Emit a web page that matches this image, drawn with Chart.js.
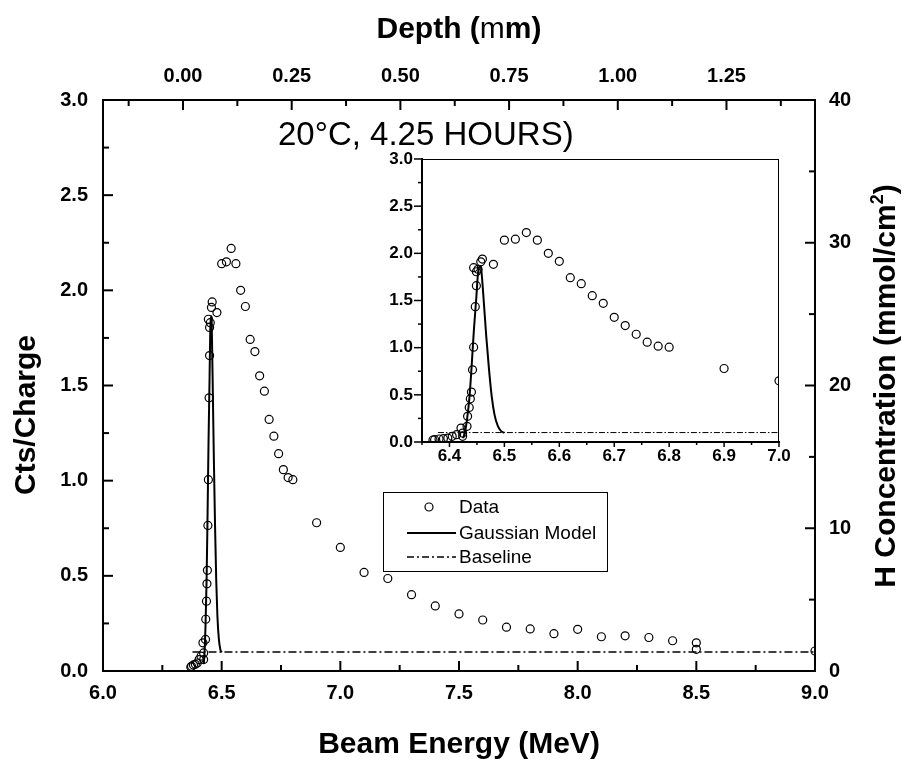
<!DOCTYPE html>
<html><head><meta charset="utf-8">
<script src="https://cdn.jsdelivr.net/npm/chart.js@4.4.1/dist/chart.umd.min.js"></script>
<style>
html,body{margin:0;padding:0;background:#fff;}
#wrap{position:relative;width:907px;height:766px;overflow:hidden;}
#main{position:absolute;left:0;top:0;}
#inset{position:absolute;left:360px;top:145px;}
</style></head><body>
<div id="wrap"><canvas id="main" width="907" height="766"></canvas><canvas id="inset" width="430" height="330"></canvas></div>
<script>
// ---------------- data ----------------
const energy = [6.370,6.373,6.381,6.389,6.397,6.405,6.413,6.421,6.424,6.424,6.432,6.433,6.436,6.438,6.440,6.442,6.444,6.447,6.449,6.449,6.444,6.452,6.457,6.460,6.48,6.50,6.52,6.54,6.56,6.58,6.60,6.62,6.64,6.66,6.68,6.70,6.72,6.74,6.76,6.78,6.80,6.90,7.00,7.10,7.20,7.30,7.40,7.50,7.60,7.70,7.80,7.90,8.00,8.10,8.20,8.30,8.40,8.50,8.50,9.00];
const counts = [0.021,0.025,0.032,0.035,0.042,0.060,0.078,0.148,0.060,0.095,0.166,0.272,0.367,0.458,0.529,0.765,1.005,1.435,1.657,1.805,1.848,1.830,1.910,1.939,1.883,2.14,2.15,2.22,2.14,2.00,1.915,1.742,1.678,1.551,1.47,1.322,1.234,1.142,1.058,1.016,1.005,0.779,0.649,0.518,0.486,0.401,0.342,0.300,0.268,0.230,0.221,0.196,0.219,0.180,0.185,0.176,0.159,0.148,0.114,0.105];
const modelEnergy = [6.425,6.429,6.432,6.4365,6.440,6.4445,6.449,6.452,6.455,6.457,6.459,6.4627,6.467,6.472,6.477,6.482,6.488,6.494,6.500];
const modelCounts = [0.04,0.13,0.24,0.48,0.77,1.19,1.54,1.79,1.865,1.86,1.76,1.47,1.12,0.77,0.48,0.29,0.17,0.115,0.098];
const baselineEnergy = [6.377, 9.0];
const baselineCounts = [0.1, 0.1];
const insetBaselineEnergy = [6.379, 7.0];

const xTicks = [6.0,6.5,7.0,7.5,8.0,8.5,9.0];
const yTicks = [0.0,0.5,1.0,1.5,2.0,2.5,3.0];
const depthTicks = [0.00,0.25,0.50,0.75,1.00,1.25];
const hTicks = [0,10,20,30,40];
const insetXTicks = [6.4,6.5,6.6,6.7,6.8,6.9,7.0];
const insetYTicks = [0.0,0.5,1.0,1.5,2.0,2.5,3.0];

const depthMin = -0.184, depthMax = 1.4536;   // depth axis range matching 6.0-9.0 MeV
const legendLabels = ['Data','Gaussian Model','Baseline'];
const noteText = '20\u00B0C, 4.25 HOURS)';

// ---------------- helpers ----------------
const FONT = '"Liberation Sans", Arial, Helvetica, sans-serif';
const pts = (xs, ys) => xs.map((x,i)=>({x, y: ys[i]}));
function minors(majors, min, max){
  const step = majors[1]-majors[0], r=[];
  for(let i=-10;i<40;i++){const v=majors[0]+(i+0.5)*step; if(v>=min-1e-9 && v<=max+1e-9) r.push(v);}
  return r;
}
function seg(ctx,x1,y1,x2,y2){ctx.beginPath();ctx.moveTo(x1,y1);ctx.lineTo(x2,y2);ctx.stroke();}
const fixTicks = arr => s => { s.ticks = arr.map(v=>({value:v})); };
const zeroPad = s => { s.paddingLeft=0; s.paddingRight=0; s.paddingTop=0; s.paddingBottom=0; };

// ---------------- main chart ----------------
const mainDecor = {
  id:'mainDecor',
  afterDraw(chart){
    const {ctx, chartArea:a, scales} = chart;
    ctx.save();
    ctx.strokeStyle='#000'; ctx.lineWidth=2;
    const MAJ=10, MIN=6;
    xTicks.forEach(v=>{const p=scales.x.getPixelForValue(v); seg(ctx,p,a.bottom,p,a.bottom-MAJ);});
    minors(xTicks,6,9).forEach(v=>{const p=scales.x.getPixelForValue(v); seg(ctx,p,a.bottom,p,a.bottom-MIN);});
    depthTicks.forEach(v=>{const p=scales.x2.getPixelForValue(v); seg(ctx,p,a.top,p,a.top+MAJ);});
    minors(depthTicks,depthMin,depthMax).forEach(v=>{const p=scales.x2.getPixelForValue(v); seg(ctx,p,a.top,p,a.top+MIN);});
    yTicks.forEach(v=>{const p=scales.y.getPixelForValue(v); seg(ctx,a.left,p,a.left+MAJ,p);});
    minors(yTicks,0,3).forEach(v=>{const p=scales.y.getPixelForValue(v); seg(ctx,a.left,p,a.left+MIN,p);});
    hTicks.forEach(v=>{const p=scales.y2.getPixelForValue(v); seg(ctx,a.right,p,a.right-MAJ,p);});
    minors(hTicks,0,40).forEach(v=>{const p=scales.y2.getPixelForValue(v); seg(ctx,a.right,p,a.right-MIN,p);});

    ctx.fillStyle='#000';
    // axis titles
    ctx.font = `bold 30px ${FONT}`;
    ctx.textAlign='center'; ctx.textBaseline='middle';
    ctx.fillText('Beam Energy (MeV)', (a.left+a.right)/2, 745);
    // Depth title with mixed glyph
    {
      const p1='Depth (', p2='m', p3='m)';
      ctx.font=`bold 30px ${FONT}`; const w1=ctx.measureText(p1).width, w3=ctx.measureText(p3).width;
      ctx.font=`30px ${FONT}`; const w2=ctx.measureText(p2).width;
      let x=(a.left+a.right)/2-(w1+w2+w3)/2; const y=30;
      ctx.textAlign='left';
      ctx.font=`bold 30px ${FONT}`; ctx.fillText(p1,x,y); x+=w1;
      ctx.font=`30px ${FONT}`; ctx.fillText(p2,x,y); x+=w2;
      ctx.font=`bold 30px ${FONT}`; ctx.fillText(p3,x,y);
    }
    ctx.save(); ctx.translate(27,415); ctx.rotate(-Math.PI/2);
    ctx.textAlign='center'; ctx.font=`bold 30px ${FONT}`; ctx.fillText('Cts/Charge',0,0); ctx.restore();
    {
      ctx.save(); ctx.translate(884,386); ctx.rotate(-Math.PI/2);
      const s1='H Concentration (mmol/cm', s2='2', s3=')';
      ctx.font=`bold 30px ${FONT}`; const w1=ctx.measureText(s1).width, w3=ctx.measureText(s3).width;
      ctx.font=`bold 18px ${FONT}`; const w2=ctx.measureText(s2).width;
      let x=-(w1+w2+w3)/2; const base=10.5;
      ctx.textAlign='left'; ctx.textBaseline='alphabetic';
      ctx.font=`bold 30px ${FONT}`; ctx.fillText(s1,x,base); x+=w1;
      ctx.font=`bold 18px ${FONT}`; ctx.fillText(s2,x,base-12); x+=w2;
      ctx.font=`bold 30px ${FONT}`; ctx.fillText(s3,x,base);
      ctx.restore();
    }
    // note
    ctx.textAlign='left'; ctx.textBaseline='middle';
    ctx.font=`33px ${FONT}`; ctx.fillText(noteText, 278, 136);
    // legend
    const L=383, T=492, R=607, B=571;
    ctx.fillStyle='#fff'; ctx.fillRect(L,T,R-L,B-T);
    ctx.lineWidth=1; ctx.strokeStyle='#000'; ctx.strokeRect(L+0.5,T+0.5,R-L,B-T);
    const rows=[507,533,557];
    ctx.beginPath(); ctx.arc(429,rows[0],4,0,Math.PI*2); ctx.lineWidth=1.2; ctx.stroke();
    ctx.lineWidth=2; seg(ctx,407,rows[1],456,rows[1]);
    ctx.lineWidth=1.5; ctx.setLineDash([7,3,2,3]); seg(ctx,407,rows[2],456,rows[2]); ctx.setLineDash([]);
    ctx.fillStyle='#000'; ctx.font=`19px ${FONT}`; ctx.textBaseline='middle';
    legendLabels.forEach((t,i)=>ctx.fillText(t,459,rows[i]+1));
    ctx.restore();
  }
};

const tickFont = {family: FONT, size: 20, weight: 'bold'};
new Chart(document.getElementById('main'), {
  type:'scatter',
  data:{datasets:[
    {label:'Data', data:pts(energy,counts), showLine:false, pointStyle:'circle', pointRadius:4, pointBorderWidth:1.2, pointBorderColor:'#000', pointBackgroundColor:'rgba(0,0,0,0)', xAxisID:'x', yAxisID:'y'},
    {label:'Gaussian Model', data:pts(modelEnergy,modelCounts), showLine:true, pointRadius:0, borderColor:'#000', borderWidth:2, cubicInterpolationMode:'monotone', xAxisID:'x', yAxisID:'y'},
    {label:'Baseline', data:pts(baselineEnergy,baselineCounts), showLine:true, pointRadius:0, borderColor:'#000', borderWidth:1.5, borderDash:[8,3,2,3], xAxisID:'x', yAxisID:'y'}
  ]},
  options:{
    responsive:false, animation:false, devicePixelRatio:1,
    layout:{padding:0},
    plugins:{legend:{display:false}, tooltip:{enabled:false}},
    events:[],
    scales:{
      x:{type:'linear', position:'bottom', min:6, max:9,
         afterBuildTicks:fixTicks(xTicks), afterFit:s=>{s.height=95; zeroPad(s);},
         ticks:{font:tickFont, color:'#000', padding:10, callback:v=>Number(v).toFixed(1), maxRotation:0, autoSkip:false},
         grid:{display:true, drawOnChartArea:false, drawTicks:false}, border:{display:true, color:'#000', width:2}},
      x2:{type:'linear', position:'top', min:depthMin, max:depthMax,
         afterBuildTicks:fixTicks(depthTicks), afterFit:s=>{s.height=100; zeroPad(s);},
         ticks:{font:tickFont, color:'#000', padding:12, callback:v=>Number(v).toFixed(2), maxRotation:0, autoSkip:false},
         grid:{display:true, drawOnChartArea:false, drawTicks:false}, border:{display:true, color:'#000', width:2}},
      y:{type:'linear', position:'left', min:0, max:3,
         afterBuildTicks:fixTicks(yTicks), afterFit:s=>{s.width=103; zeroPad(s);},
         ticks:{font:tickFont, color:'#000', padding:15, callback:v=>Number(v).toFixed(1), autoSkip:false},
         grid:{display:true, drawOnChartArea:false, drawTicks:false}, border:{display:true, color:'#000', width:2}},
      y2:{type:'linear', position:'right', min:0, max:40,
         afterBuildTicks:fixTicks(hTicks), afterFit:s=>{s.width=92; zeroPad(s);},
         ticks:{font:tickFont, color:'#000', padding:14, callback:v=>String(v), autoSkip:false},
         grid:{display:true, drawOnChartArea:false, drawTicks:false}, border:{display:true, color:'#000', width:2}}
    }
  },
  plugins:[mainDecor]
});

// ---------------- inset chart ----------------
const insetDecor = {
  id:'insetDecor',
  afterDraw(chart){
    const {ctx, chartArea:a, scales} = chart;
    ctx.save(); ctx.strokeStyle='#000';
    ctx.lineWidth=1;
    seg(ctx,a.left,a.top+0.5,a.right,a.top+0.5);
    seg(ctx,a.right-0.5,a.top,a.right-0.5,a.bottom);
    ctx.lineWidth=1.5;
    insetXTicks.forEach(v=>{const p=scales.x.getPixelForValue(v); seg(ctx,p,a.bottom,p,a.bottom+5);});
    minors(insetXTicks,6.35,7.0).forEach(v=>{const p=scales.x.getPixelForValue(v); seg(ctx,p,a.bottom,p,a.bottom+3);});
    insetYTicks.forEach(v=>{const p=scales.y.getPixelForValue(v); seg(ctx,a.left,p,a.left-8,p);});
    minors(insetYTicks,0,3).forEach(v=>{const p=scales.y.getPixelForValue(v); seg(ctx,a.left,p,a.left-4,p);});
    ctx.restore();
  }
};
const insetFont = {family: FONT, size: 17, weight: 'bold'};
new Chart(document.getElementById('inset'), {
  type:'scatter',
  data:{datasets:[
    {data:pts(energy,counts), showLine:false, pointStyle:'circle', pointRadius:4, pointBorderWidth:1.2, pointBorderColor:'#000', pointBackgroundColor:'rgba(0,0,0,0)'},
    {data:pts(modelEnergy,modelCounts), showLine:true, pointRadius:0, borderColor:'#000', borderWidth:2, cubicInterpolationMode:'monotone'},
    {data:pts(insetBaselineEnergy,baselineCounts), showLine:true, pointRadius:0, borderColor:'#000', borderWidth:1, borderDash:[6,2,1.5,2]}
  ]},
  options:{
    responsive:false, animation:false, devicePixelRatio:1,
    layout:{padding:{top:14, right:11, left:0, bottom:0}},
    plugins:{legend:{display:false}, tooltip:{enabled:false}},
    events:[],
    scales:{
      x:{type:'linear', position:'bottom', min:6.35, max:7.0,
         afterBuildTicks:fixTicks(insetXTicks), afterFit:s=>{s.height=33; zeroPad(s);},
         ticks:{font:insetFont, color:'#000', padding:4, callback:v=>Number(v).toFixed(1), maxRotation:0, autoSkip:false},
         grid:{display:true, drawOnChartArea:false, drawTicks:false}, border:{display:true, color:'#000', width:2}},
      y:{type:'linear', position:'left', min:0, max:3,
         afterBuildTicks:fixTicks(insetYTicks), afterFit:s=>{s.width=62; zeroPad(s);},
         ticks:{font:insetFont, color:'#000', padding:9, callback:v=>Number(v).toFixed(1), autoSkip:false},
         grid:{display:true, drawOnChartArea:false, drawTicks:false}, border:{display:true, color:'#000', width:2}}
    }
  },
  plugins:[insetDecor]
});
</script>
</body></html>
